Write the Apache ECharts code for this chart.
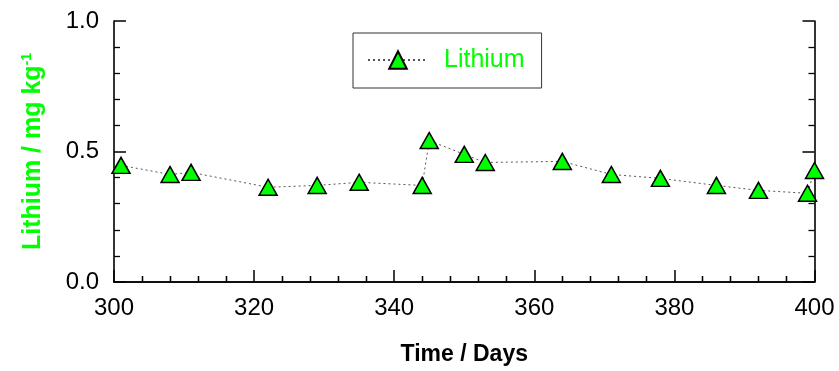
<!DOCTYPE html>
<html><head><meta charset="utf-8">
<script src="https://cdn.jsdelivr.net/npm/echarts@6/dist/echarts.min.js"></script>
<style>html,body{margin:0;padding:0;background:#fff}#c{width:839px;height:371px}</style>
</head><body><div id="c"></div>
<script>
const days = [301, 308, 311, 322, 329, 335, 344, 345, 350, 353, 364, 371, 378, 386, 392, 399, 400];
const lithium = [0.447, 0.412, 0.420, 0.363, 0.370, 0.382, 0.370, 0.542, 0.489, 0.458, 0.462, 0.412, 0.397, 0.370, 0.351, 0.340, 0.427];
const xTicks = [300, 320, 340, 360, 380, 400];
const yTicks = [0.0, 0.5, 1.0];
const seriesName = 'Lithium';

const FONT = '"Liberation Sans", Arial, sans-serif';
const GREEN = '#00ff00';
const chart = echarts.init(document.getElementById('c'), null, {renderer: 'canvas'});
const axisLine = {show: true, lineStyle: {color: '#000', width: 1.6}};
const tick = {show: true, inside: true, length: 12, lineStyle: {color: '#000', width: 1.5}};
const minor = {show: true, splitNumber: 5, length: 6, lineStyle: {color: '#000', width: 1.3}};
chart.setOption({
  animation: false,
  grid: {left: 114, right: 24.5, top: 21, bottom: 88, containLabel: false},
  legend: {
    left: 353, top: 33, padding: [14, 17, 15, 14],
    borderColor: '#333', borderWidth: 1,
    itemWidth: 60, itemHeight: 22,
    textStyle: {color: GREEN, fontSize: 25, lineHeight: 26, fontFamily: FONT, padding: [0, 0, 0, 11]},
    data: [seriesName]
  },
  xAxis: [{
    type: 'value', min: xTicks[0], max: xTicks[xTicks.length - 1], interval: 20,
    axisLine, axisTick: tick, minorTick: minor, splitLine: {show: false},
    axisLabel: {color: '#000', fontSize: 24, fontFamily: FONT, margin: 14},
    name: 'Time / Days', nameLocation: 'middle', nameGap: 61,
    nameTextStyle: {color: '#000', fontSize: 23, fontWeight: 'bold', fontFamily: FONT}
  }, {
    type: 'value', position: 'top', min: xTicks[0], max: xTicks[xTicks.length - 1], interval: 20,
    axisLine, axisTick: {show: false}, minorTick: minor, splitLine: {show: false}, axisLabel: {show: false}
  }],
  yAxis: [{
    type: 'value', min: yTicks[0], max: yTicks[yTicks.length - 1], interval: 0.5,
    axisLine, axisTick: tick, minorTick: minor, splitLine: {show: false},
    axisLabel: {color: '#000', fontSize: 24, fontFamily: FONT, margin: 15, formatter: v => v.toFixed(1)},
    name: '{a|Lithium / mg kg}{s|-1}', nameLocation: 'middle', nameGap: 68, nameRotate: 90,
    nameTextStyle: {
      rich: {
        a: {color: GREEN, fontSize: 25, fontWeight: 'bold', fontFamily: FONT, lineHeight: 26},
        s: {color: GREEN, fontSize: 14, fontWeight: 'bold', fontFamily: FONT, verticalAlign: 'top', lineHeight: 26}
      }
    }
  }, {
    type: 'value', position: 'right', min: yTicks[0], max: yTicks[yTicks.length - 1], interval: 0.5,
    axisLine, axisTick: tick, minorTick: minor, splitLine: {show: false}, axisLabel: {show: false}
  }],
  series: [{
    name: seriesName, type: 'line',
    data: days.map((d, i) => [d, lithium[i]]),
    symbol: 'triangle', symbolSize: [18, 16],
    itemStyle: {color: GREEN, borderColor: '#000', borderWidth: 1.5},
    lineStyle: {color: '#555', width: 1, type: [2, 3]},
    clip: false
  }]
});
</script></body></html>
